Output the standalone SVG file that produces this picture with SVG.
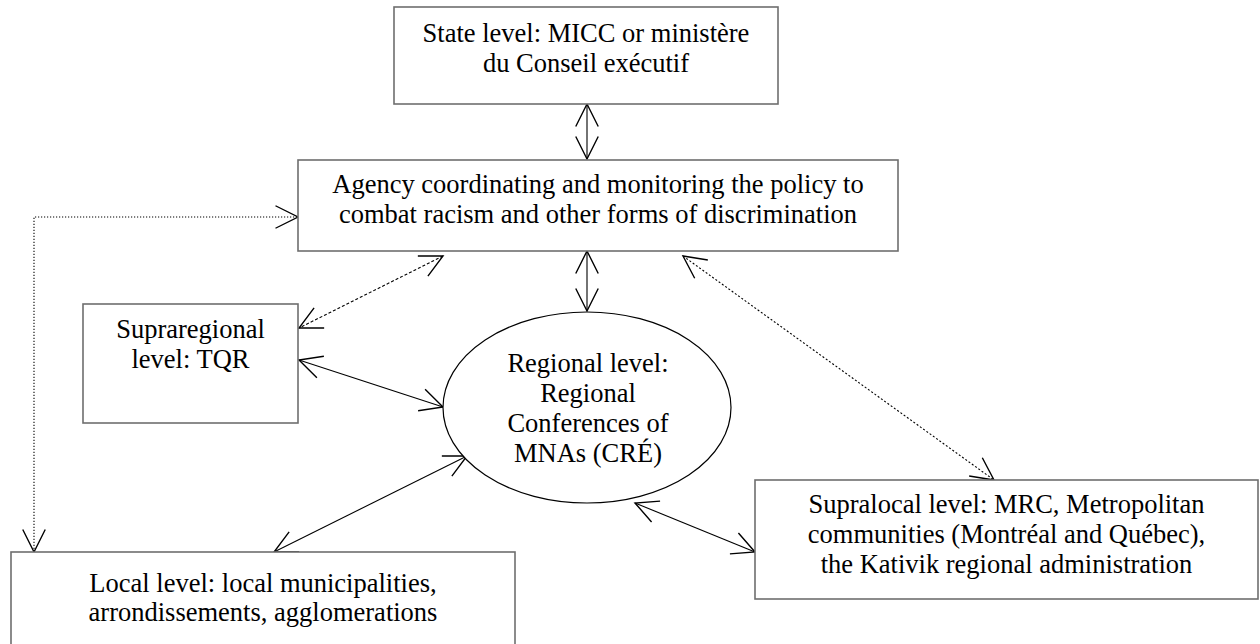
<svg xmlns="http://www.w3.org/2000/svg" width="1260" height="644" viewBox="0 0 1260 644">
<style>
.box{fill:#fff;stroke:#6e6e6e;stroke-width:1.6}
.ell{fill:#fff;stroke:#000;stroke-width:1.2}
.t{font-family:"Liberation Serif","Times New Roman",serif;font-size:26.5px;fill:#000;text-anchor:middle}
.c{fill:none;stroke:#000;stroke-width:1.1}
.dash{stroke-dasharray:3,2}
.dash2{stroke-dasharray:2,2}
.dot{stroke-dasharray:1.2,1.8}
</style>
<defs>
<marker id="ah" markerUnits="userSpaceOnUse" markerWidth="30" markerHeight="30" viewBox="-24 -14 28 28" refX="0" refY="0" orient="auto-start-reverse">
<path d="M-21,-10.5 L0,0 L-21,10.5" fill="none" stroke="#000" stroke-width="1.3"/>
</marker>
</defs>
<rect width="1260" height="644" fill="#fff"/>
<g id="connectors">
<line class="c" x1="587" y1="104" x2="587" y2="159" marker-start="url(#ah)" marker-end="url(#ah)"/>
<line class="c" x1="587" y1="251" x2="587" y2="311" marker-start="url(#ah)" marker-end="url(#ah)"/>
<polyline class="c dot" points="34,552 34,217 298,217" marker-start="url(#ah)" marker-end="url(#ah)"/>
<line class="c dash" x1="443" y1="256" x2="299" y2="328" marker-start="url(#ah)" marker-end="url(#ah)"/>
<line class="c dash2" x1="683" y1="256" x2="994" y2="480" marker-start="url(#ah)" marker-end="url(#ah)"/>
<line class="c" x1="299" y1="360" x2="443" y2="407" marker-start="url(#ah)" marker-end="url(#ah)"/>
<line class="c" x1="274" y1="552" x2="467" y2="456" marker-start="url(#ah)" marker-end="url(#ah)"/>
<line class="c" x1="635" y1="503" x2="755" y2="552" marker-start="url(#ah)" marker-end="url(#ah)"/>
</g>
<g id="state">
<rect class="box" x="394" y="7" width="384" height="97"/>
<text class="t" x="586" y="42">State level: MICC or ministère</text>
<text class="t" x="586" y="72">du Conseil exécutif</text>
</g>
<g id="agency">
<rect class="box" x="298" y="160" width="600" height="91"/>
<text class="t" x="598" y="193">Agency coordinating and monitoring the policy to</text>
<text class="t" x="598" y="223">combat racism and other forms of discrimination</text>
</g>
<g id="supraregional">
<rect class="box" x="83" y="304" width="215" height="119"/>
<text class="t" x="190.5" y="338">Supraregional</text>
<text class="t" x="190.5" y="368">level: TQR</text>
</g>
<g id="regional">
<ellipse class="ell" cx="587" cy="407.5" rx="144" ry="95.5"/>
<text class="t" x="588" y="372">Regional level:</text>
<text class="t" x="588" y="402">Regional</text>
<text class="t" x="588" y="432">Conferences of</text>
<text class="t" x="588" y="462">MNAs (CRÉ)</text>
</g>
<g id="local">
<rect class="box" x="11" y="552" width="504" height="110"/>
<text class="t" x="263" y="592">Local level: local municipalities,</text>
<text class="t" x="263" y="621">arrondissements, agglomerations</text>
</g>
<g id="supralocal">
<rect class="box" x="755" y="480" width="503" height="119"/>
<text class="t" x="1006.5" y="513">Supralocal level: MRC, Metropolitan</text>
<text class="t" x="1006.5" y="543">communities (Montréal and Québec),</text>
<text class="t" x="1006.5" y="573">the Kativik regional administration</text>
</g>
</svg>
